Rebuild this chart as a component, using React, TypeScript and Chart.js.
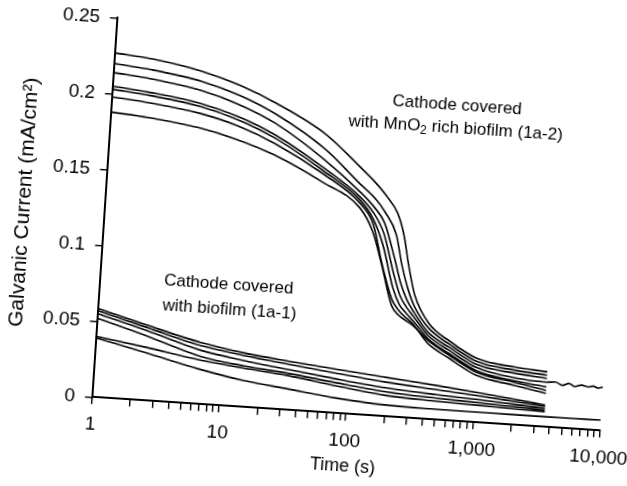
import React, { useEffect, useRef } from 'react';
import { Chart, registerables } from 'chart.js';

Chart.register(...registerables);

const FONT = "'Liberation Sans', Arial, Helvetica, sans-serif";

// ---- Cathode covered with MnO2 rich biofilm (1a-2) ----
const T_UP = [1, 2, 5, 10, 20, 50, 100, 130, 160, 200, 230, 260, 300, 400, 600, 1000, 2000, 3600];
const U1 = [0.227, 0.2246, 0.2186, 0.2111, 0.2006, 0.1826, 0.1615, 0.153, 0.145, 0.134, 0.120, 0.100, 0.081, 0.063, 0.052, 0.042, 0.038, 0.0363];
const U2 = [0.220, 0.2175, 0.2120, 0.2045, 0.1935, 0.1730, 0.1510, 0.143, 0.134, 0.120, 0.100, 0.086, 0.074, 0.060, 0.050, 0.040, 0.036, 0.0341];
const U3 = [0.214, 0.2115, 0.2060, 0.1985, 0.1875, 0.1660, 0.1460, 0.137, 0.127, 0.104, 0.088, 0.078, 0.070, 0.057, 0.048, 0.038, 0.034, 0.032];
const U4 = [0.205, 0.2025, 0.1975, 0.1905, 0.1800, 0.1605, 0.1430, 0.133, 0.120, 0.094, 0.080, 0.073, 0.067, 0.055, 0.046, 0.036, 0.031, 0.0295];
const U5 = [0.203, 0.2005, 0.1955, 0.1885, 0.1780, 0.1585, 0.1410, 0.129, 0.112, 0.085, 0.074, 0.069, 0.064, 0.053, 0.044, 0.034, 0.029, 0.0264];
const U6 = [0.198, 0.1957, 0.1910, 0.1845, 0.1745, 0.1565, 0.1390, 0.126, 0.100, 0.077, 0.070, 0.066, 0.062, 0.050, 0.041, 0.031, 0.026, 0.0221];
const U7 = [0.188, 0.1860, 0.1815, 0.1755, 0.1670, 0.1510, 0.1360, 0.121, 0.099, 0.073, 0.067, 0.064, 0.061, 0.052, 0.043, 0.033, 0.028, 0.024];
const T_U4_TAIL = [4200, 4800, 5400, 6000, 6800, 7600, 8400, 9200, 10000];
const U4_TAIL = [0.0300, 0.0281, 0.0296, 0.0278, 0.0291, 0.0282, 0.0289, 0.0278, 0.0286];

// ---- Cathode covered with biofilm (1a-1) ----
const T_LO = [1, 2.5, 6.7, 15, 34, 80, 200, 500, 1100, 2000, 3600];
const L1 = [0.0585, 0.0495, 0.0405, 0.0355, 0.0320, 0.0288, 0.0256, 0.0225, 0.0195, 0.0170, 0.0144];
const L2 = [0.0570, 0.0480, 0.0385, 0.0338, 0.0300, 0.0262, 0.0225, 0.0198, 0.0175, 0.0155, 0.0135];
const L3 = [0.0550, 0.0460, 0.0355, 0.0305, 0.0265, 0.0225, 0.0188, 0.0165, 0.0150, 0.0136, 0.0122];
const L4 = [0.0520, 0.0425, 0.0315, 0.0270, 0.0240, 0.0200, 0.0162, 0.0142, 0.0130, 0.0120, 0.0110];
const L5 = [0.0400, 0.0350, 0.0290, 0.0255, 0.0225, 0.0180, 0.0138, 0.0122, 0.0113, 0.0106, 0.0100];
const L6 = [0.0390, 0.0315, 0.0230, 0.0175, 0.0138, 0.0100, 0.0075, 0.0069, 0.0068, 0.0067, 0.0067];
const T_L6_TAIL = [6000, 10000];
const L6_TAIL = [0.0068, 0.0069];

// ---- axes ----
const X_MAJOR = [1, 10, 100, 1000, 10000];
const X_LABELS = ['1', '10', '100', '1,000', '10,000'];
const X_MINOR_MULT = [2, 3, 4, 5, 6, 7, 8, 9];
const Y_TICKS = [0, 0.05, 0.1, 0.15, 0.2, 0.25];
const Y_LABELS = ['0', '0.05', '0.1', '0.15', '0.2', '0.25'];

// ---- annotations (anchored in data units) ----
const ANNO_UP_T = 515;
const ANNO_UP_Y = [0.2076, 0.1925];
const ANNO_LO_T = 3.2;
const ANNO_LO_Y = [0.0795, 0.0632];

const toPts = (t: number[], v: number[]) => t.map((x, i) => ({ x, y: v[i] }));

const annotationPlugin = {
  id: 'annos',
  afterDatasetsDraw(chart: any) {
    const { ctx, scales } = chart;
    const x = scales.x;
    const y = scales.y;
    ctx.save();
    ctx.fillStyle = '#000';
    ctx.textBaseline = 'middle';
    const main = `17px ${FONT}`;
    const sub = `12px ${FONT}`;

    // lower annotation (left aligned)
    ctx.font = main;
    ctx.textAlign = 'left';
    const lx = x.getPixelForValue(ANNO_LO_T);
    ctx.fillText('Cathode covered', lx, y.getPixelForValue(ANNO_LO_Y[0]));
    ctx.fillText('with biofilm (1a-1)', lx, y.getPixelForValue(ANNO_LO_Y[1]));

    // upper annotation (centered, with subscript)
    const ux = x.getPixelForValue(ANNO_UP_T);
    ctx.textAlign = 'center';
    ctx.fillText('Cathode covered', ux, y.getPixelForValue(ANNO_UP_Y[0]));
    const parts = [
      { t: 'with MnO', f: main, dy: 0 },
      { t: '2', f: sub, dy: 5 },
      { t: ' rich biofilm (1a-2)', f: main, dy: 0 },
    ];
    let total = 0;
    const widths = parts.map((p) => {
      ctx.font = p.f;
      const w = ctx.measureText(p.t).width;
      total += w;
      return w;
    });
    let cx = ux - total / 2;
    const ly = y.getPixelForValue(ANNO_UP_Y[1]);
    ctx.textAlign = 'left';
    parts.forEach((p, i) => {
      ctx.font = p.f;
      ctx.fillText(p.t, cx, ly + p.dy);
      cx += widths[i];
    });
    ctx.restore();
  },
};

export default function App() {
  const ref = useRef<HTMLCanvasElement | null>(null);

  useEffect(() => {
    if (!ref.current) return;
    const line = (data: { x: number; y: number }[]) => ({
      data,
      borderColor: '#000',
      borderWidth: 1.6,
      pointRadius: 0,
      fill: false,
      cubicInterpolationMode: 'monotone' as const,
    });

    const datasets = [
      line(toPts(T_UP, U1)),
      line(toPts(T_UP, U2)),
      line(toPts(T_UP, U3)),
      line(toPts(T_UP.concat(T_U4_TAIL), U4.concat(U4_TAIL))),
      line(toPts(T_UP, U5)),
      line(toPts(T_UP, U6)),
      line(toPts(T_UP, U7)),
      line(toPts(T_LO, L1)),
      line(toPts(T_LO, L2)),
      line(toPts(T_LO, L3)),
      line(toPts(T_LO, L4)),
      line(toPts(T_LO, L5)),
      line(toPts(T_LO.concat(T_L6_TAIL), L6.concat(L6_TAIL))),
    ];

    const xTickValues: number[] = [];
    X_MAJOR.forEach((m, i) => {
      xTickValues.push(m);
      if (i < X_MAJOR.length - 1) X_MINOR_MULT.forEach((k) => xTickValues.push(k * m));
    });

    const chart = new Chart(ref.current, {
      type: 'line',
      data: { datasets },
      plugins: [annotationPlugin],
      options: {
        animation: false,
        responsive: false,
        devicePixelRatio: 1,
        layout: { padding: { left: 0, top: 31.45, right: 68.2, bottom: 0 } },
        plugins: { legend: { display: false }, tooltip: { enabled: false } },
        scales: {
          x: {
            type: 'logarithmic',
            min: 1,
            max: 10000,
            afterBuildTicks: (s: any) => {
              s.ticks = xTickValues.map((v) => ({ value: v, major: X_MAJOR.includes(v) }));
            },
            afterFit: (s: any) => {
              s.height = 486 - 411.3;
              s.paddingLeft = 0;
              s.paddingRight = 0;
            },
            ticks: {
              autoSkip: false,
              maxRotation: 0,
              minRotation: 0,
              padding: 9,
              color: '#000',
              font: { family: FONT, size: 19 },
              callback: (v: any) => {
                const i = X_MAJOR.findIndex((m) => Math.abs(m - Number(v)) < 1e-6);
                return i >= 0 ? X_LABELS[i] : '';
              },
            },
            grid: {
              drawOnChartArea: false,
              drawTicks: true,
              tickLength: 7,
              color: '#000',
              lineWidth: 1.4,
            },
            border: { display: true, color: '#000', width: 2 },
            title: {
              display: true,
              text: 'Time (s)',
              color: '#000',
              font: { family: FONT, size: 18 },
              padding: { top: 0, bottom: 11 },
            },
          },
          y: {
            type: 'linear',
            min: 0,
            max: 0.25,
            afterBuildTicks: (s: any) => {
              s.ticks = Y_TICKS.map((v) => ({ value: v }));
            },
            afterFit: (s: any) => {
              s.width = 102.6;
              s.paddingTop = 0;
              s.paddingBottom = 0;
            },
            ticks: {
              padding: 10,
              color: '#000',
              font: { family: FONT, size: 19 },
              callback: (v: any) => {
                const i = Y_TICKS.findIndex((t) => Math.abs(t - Number(v)) < 1e-9);
                return i >= 0 ? Y_LABELS[i] : '';
              },
            },
            grid: {
              drawOnChartArea: false,
              drawTicks: true,
              tickLength: 7,
              color: '#000',
              lineWidth: 1.4,
            },
            border: { display: true, color: '#000', width: 2 },
            title: {
              display: true,
              text: 'Galvanic Current (mA/cm²)',
              color: '#000',
              font: { family: FONT, size: 21 },
              padding: { top: 10, bottom: 0 },
            },
          },
        },
      },
    } as any);

    return () => chart.destroy();
  }, []);

  return (
    <div
      style={{
        position: 'fixed',
        left: 0,
        top: 0,
        width: 627,
        height: 486,
        overflow: 'hidden',
        background: '#fff',
      }}
    >
      <canvas
        ref={ref}
        width={680}
        height={486}
        style={{
          position: 'absolute',
          left: 0,
          top: 0,
          width: 680,
          height: 486,
          transform: 'rotate(3.78deg)',
          transformOrigin: '313.5px 243px',
        }}
      />
    </div>
  );
}
